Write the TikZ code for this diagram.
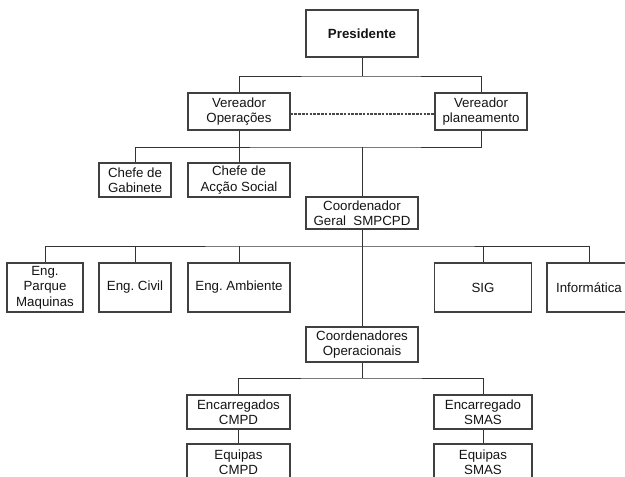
\documentclass[tikz,border=0pt]{standalone}
\usepackage{fontspec}
\setmainfont{Liberation Sans}
\frenchspacing
\begin{document}
\begin{tikzpicture}[x=1pt,y=-1pt,
  box/.style={draw=black!75, line width=1.2pt, fill=white, align=center, inner sep=0pt,
    text=black!92, font=\fontsize{13.3}{15.5}\selectfont},
  link/.style={draw=black!80, line width=1pt},
  dashlink/.style={draw=black!72, line width=2.2pt, dash pattern=on 2.6pt off 1.2pt}]
\useasboundingbox (0,0) rectangle (625,477);
\clip (0,0) rectangle (625,477);
% nodes
\node[box, minimum width=112pt, minimum height=47pt, font=\fontsize{13.3}{15.5}\selectfont\bfseries] (pres) at (362,33.5) {Presidente};
\node[box, minimum width=102pt, minimum height=37pt] (vop) at (239,111.5) {Vereador\\Operações};
\node[box, minimum width=92pt, minimum height=37pt] (vpl) at (481,111.5) {Vereador\\planeamento};
\node[box, minimum width=72pt, minimum height=34pt] (cgab) at (135,180) {Chefe de\\Gabinete};
\node[box, minimum width=102pt, minimum height=34pt] (cas) at (239,180) {Chefe de\\Acção Social};
\node[box, minimum width=112pt, minimum height=32pt] (cg) at (362,213) {Coordenador\\Geral\ \ SMPCPD};
\node[box, minimum width=76pt, minimum height=49pt] (epm) at (45,287.5) {Eng.\\Parque\\Maquinas};
\node[box, minimum width=72pt, minimum height=49pt] (eciv) at (135,287.5) {Eng.\ Civil};
\node[box, minimum width=102pt, minimum height=49pt] (eamb) at (239,287.5) {Eng.\ Ambiente};
\node[box, minimum width=97pt, minimum height=49pt] (sig) at (483,287.5) {SIG};
\node[box, minimum width=84pt, minimum height=49pt] (inf) at (589,287.5) {Informática};
\node[box, minimum width=112pt, minimum height=35pt] (cop) at (362,344.5) {Coordenadores\\Operacionais};
\node[box, minimum width=103pt, minimum height=34pt] (ecmpd) at (238.5,412) {Encarregados\\CMPD};
\node[box, minimum width=98pt, minimum height=34pt] (esmas) at (483,412) {Encarregado\\SMAS};
\node[box, minimum width=103pt, minimum height=36pt] (eqc) at (238.5,462) {Equipas\\CMPD};
\node[box, minimum width=98pt, minimum height=36pt] (eqs) at (483,462) {Equipas\\SMAS};
% bus coordinates
\coordinate (b1) at (362,76);
\coordinate (b2) at (362,147);
\coordinate (b3) at (362,246);
\coordinate (b4) at (362,378);
% connectors
\draw[link] (pres) -- (b1);
\draw[link] (vop.north) |- (b1) -| (vpl.north);
\draw[dashlink] ([yshift=-2.5pt]vop.east) -- ([yshift=-2.5pt]vpl.west);
\draw[link] (cgab.north) |- (b2) -| (vpl.south);
\draw[link] (vop) -- (cas);
\draw[link] (b2) -- (cg);
\draw[link] (cg) -- (cop);
\draw[link] (epm.north) |- (b3) -| (inf.north);
\draw[link] (eciv.north) -- (eciv.north |- b3);
\draw[link] (eamb.north) -- (eamb.north |- b3);
\draw[link] (sig.north) -- (sig.north |- b3);
\draw[link] (cop) -- (b4);
\draw[link] (ecmpd.north) |- (b4) -| (esmas.north);
\draw[link] (ecmpd) -- (eqc);
\draw[link] (esmas) -- (eqs);
\end{tikzpicture}
\end{document}
